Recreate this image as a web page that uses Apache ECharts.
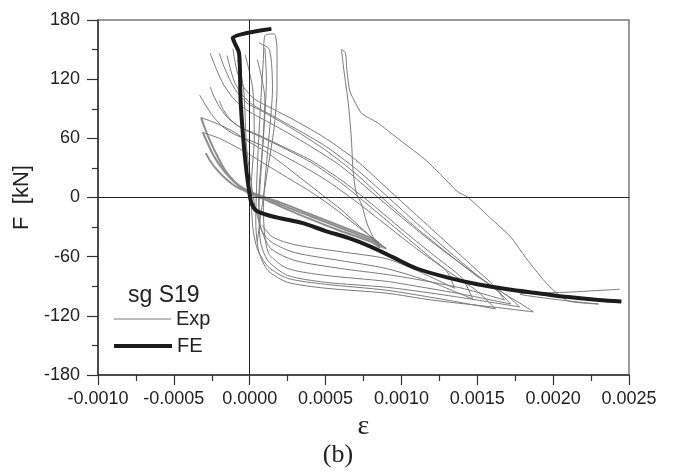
<!DOCTYPE html>
<html>
<head>
<meta charset="utf-8">
<script src="https://cdn.jsdelivr.net/npm/echarts@6/dist/echarts.min.js"></script>
<style>
  html, body { margin: 0; padding: 0; background: #ffffff; }
  #chart { width: 676px; height: 472px; }
</style>
</head>
<body>
<div id="chart"></div>
<script>
// Axis ticks
const xTickLabels = ['-0.0010', '-0.0005', '0.0000', '0.0005', '0.0010', '0.0015', '0.0020', '0.0025'];
const yTickLabels = ['-180', '-120', '-60', '0', '60', '120', '180'];

// FE prediction: strain vs. force [kN]
const feCurve = [
  [0.000143, 171], [-0.000112, 162], [-0.0001, 157], [-0.00007, 146], [-0.00006, 98],
  [-0.00004, 55], [-0.00002, 25], [-0.000005, 8], [0.00001, -5], [0.00004, -13],
  [0.0001, -17], [0.0002, -21], [0.00035, -26], [0.0005, -34], [0.00065, -41],
  [0.0008, -50], [0.00095, -61], [0.0011, -72], [0.0013, -81], [0.0015, -88],
  [0.0017, -93], [0.0019, -97], [0.0021, -101], [0.0023, -104], [0.00245, -105.5]
];

// Measured cycles (strain gauge S19)
const expCycleA = [
  [-0.00026, 146], [-0.00022, 130], [-0.00017, 114], [-0.00011, 101], [-0.00004, 91], [0.00002, 85],
  [0.0002, 70], [0.0004, 52], [0.0006, 32], [0.0008, 6], [0.001, -20], [0.0012, -45],
  [0.0014, -68], [0.0016, -90], [0.0018, -109], [0.00187, -116],
  [0.0016, -111], [0.0012, -104], [0.0009, -97], [0.0005, -92], [0.00025, -86], [0.00012, -74],
  [0.00006, -55], [0.00004, -25], [0.00005, 30], [0.00007, 90], [0.00009, 140], [0.0001, 164],
  [0.00016, 166], [0.00018, 150], [0.00018, 110], [0.00016, 70], [0.00012, 30], [0.00008, -10], [0.00005, -45]
];
const expCycleB = [
  [-0.0002, 146], [-0.00017, 133], [-0.00012, 116], [-0.00007, 104], [-0.00001, 95], [0.0001, 86],
  [0.0003, 68], [0.0005, 48], [0.0007, 24], [0.0009, -4], [0.0011, -31], [0.0013, -56],
  [0.0015, -80], [0.0017, -100], [0.00178, -111],
  [0.0015, -104], [0.0012, -97], [0.0009, -91], [0.0005, -86], [0.00025, -79], [0.00012, -64],
  [0.00007, -44], [0.00006, 0], [0.00009, 60], [0.00011, 120], [0.0001, 152]
];
const expCycleC = [
  [-0.00015, 144], [-0.00013, 132], [-0.0001, 117], [-0.00005, 104], [0.00002, 94], [0.00015, 83],
  [0.0003, 70], [0.0005, 52], [0.0007, 29], [0.0009, 2], [0.0011, -26], [0.0013, -53],
  [0.0015, -79], [0.00165, -97], [0.00172, -108],
  [0.0014, -98], [0.0011, -90], [0.0009, -85], [0.0005, -79], [0.00025, -72], [0.00013, -58],
  [0.0001, -40], [0.00009, -10], [0.00012, 50], [0.00015, 110], [0.00013, 150], [0.00006, 157]
];
const expCycleD = [
  [-0.00011, 151], [-0.0001, 140], [-0.00008, 126], [-0.00004, 112], [0.00003, 100], [0.00015, 90],
  [0.0003, 78], [0.0005, 60], [0.0007, 38], [0.0009, 10], [0.0011, -18], [0.0013, -46],
  [0.0015, -74], [0.0016, -88], [0.00168, -104],
  [0.0014, -92], [0.0011, -83], [0.0009, -78], [0.0006, -72], [0.0003, -64], [0.00014, -52],
  [0.00008, -34], [0.00003, -5], [-0.00002, 50], [-0.00004, 110], [-0.00008, 140]
];
const expMidA = [
  [-0.00033, 104], [-0.0003, 96], [-0.00025, 84], [-0.00018, 72], [-0.0001, 64], [0.0, 58],
  [0.00015, 48], [0.0003, 36], [0.0005, 18], [0.0007, -4], [0.0009, -28], [0.0011, -52],
  [0.0013, -74], [0.0015, -95], [0.00162, -113],
  [0.0013, -104], [0.0009, -94], [0.0005, -88], [0.00025, -82], [0.00012, -70], [0.00005, -52],
  [0.00002, -30], [0.00001, 10], [0.00003, 60], [0.00002, 110], [-0.00003, 145]
];
const expMidB = [
  [-0.00026, 112], [-0.00024, 104], [-0.0002, 92], [-0.00014, 80], [-0.00006, 71], [0.00005, 64],
  [0.0002, 53], [0.0004, 38], [0.0006, 18], [0.0008, -6], [0.001, -32], [0.0012, -57],
  [0.0014, -82], [0.00147, -103],
  [0.0012, -86], [0.0009, -72], [0.0006, -64], [0.0003, -56], [0.00015, -46], [0.00008, -34],
  [0.00006, -15], [0.00008, 40], [0.0001, 100], [0.00005, 140]
];
const expMidC = [
  [-0.0002, 98], [-0.00017, 88], [-0.00012, 78], [-0.00005, 70], [0.00005, 63], [0.0002, 52],
  [0.0004, 36], [0.0006, 15], [0.0008, -10], [0.001, -36], [0.0012, -62], [0.0013, -75],
  [0.00135, -92],
  [0.0011, -74], [0.0009, -62], [0.0006, -55], [0.0003, -48], [0.00015, -40], [0.00008, -28]
];
const expBandA = [
  [-0.00032, 81], [-0.0003, 72], [-0.00026, 57], [-0.00021, 41], [-0.00016, 27], [-0.0001, 16],
  [-0.00004, 8], [0.0, 4], [0.0001, -2], [0.0002, -9], [0.0004, -22], [0.0006, -34],
  [0.0008, -45], [0.00086, -51]
];
const expBandB = [
  [-0.00031, 66], [-0.00028, 56], [-0.00024, 43], [-0.00019, 31], [-0.00013, 20], [-0.00007, 12],
  [0.0, 6], [0.0001, 0], [0.0002, -7], [0.0004, -19], [0.0006, -31], [0.0008, -43], [0.0009, -52]
];
const expBandC = [
  [-0.00029, 45], [-0.00026, 37], [-0.00021, 27], [-0.00015, 18], [-0.00009, 11], [0.0, 5],
  [0.0002, -5], [0.0004, -17], [0.0006, -29], [0.0008, -41], [0.00085, -46]
];
const expBandReturnA = [
  [0.00086, -51], [0.0008, -40], [0.0007, -26], [0.0006, -12], [0.0005, 0], [0.0004, 12], [0.0003, 24],
  [0.0002, 36], [0.0001, 47], [0.0, 56], [-0.0001, 66], [-0.0002, 74], [-0.00032, 81]
];
const expBandReturnB = [
  [0.0009, -52], [0.00082, -42], [0.0007, -28], [0.00055, -10], [0.0004, 6], [0.00025, 20], [0.0001, 34],
  [-0.00005, 48], [-0.0002, 60], [-0.00031, 66]
];
const expLastCycle = [
  [0.00088, -52], [0.00082, -42], [0.00077, -25], [0.00074, -8], [0.0007, 6], [0.00068, 30],
  [0.00067, 60], [0.00065, 95], [0.00062, 130], [0.000605, 150], [0.00063, 147], [0.00064, 130],
  [0.00066, 108], [0.0007, 95], [0.00074, 85], [0.00084, 76], [0.001, 57], [0.00116, 38],
  [0.00128, 20], [0.00137, 6], [0.00144, 0], [0.00158, -20], [0.00172, -40], [0.0018, -57],
  [0.00188, -73], [0.00195, -86], [0.00201, -95], [0.0021, -105], [0.0023, -108],
  [0.00205, -104], [0.00178, -98], [0.0021, -96], [0.00244, -93]
];

const thinCurves = [expCycleA, expCycleB, expCycleC, expCycleD, expMidA, expMidB, expMidC,
  expBandReturnA, expBandReturnB, expLastCycle];
const bandCurves = [expBandA, expBandB, expBandC];

const xMin = -0.001, xMax = 0.0025, xStep = 0.0005;
const yMin = -180, yMax = 180, yStep = 60;

const expColor = '#7a7a7a';
const feColor = '#1c1c1c';

const series = [];
bandCurves.forEach(function (d) {
  series.push({
    name: 'Exp', type: 'line', data: d, symbol: 'none', smooth: 0.25, silent: true,
    itemStyle: { color: expColor },
    lineStyle: { color: '#8e8e8e', width: 2 }
  });
});
thinCurves.forEach(function (d) {
  series.push({
    name: 'Exp', type: 'line', data: d, symbol: 'none', smooth: 0.25, silent: true,
    itemStyle: { color: expColor },
    lineStyle: { color: expColor, width: 1 }
  });
});
series.push({
  name: 'FE', type: 'line', data: feCurve, symbol: 'none', smooth: 0.3, silent: true,
  itemStyle: { color: feColor },
  lineStyle: { color: feColor, width: 4 },
  markLine: {
    silent: true, symbol: 'none', label: { show: false },
    lineStyle: { color: '#222', width: 1, type: 'solid' },
    data: [{ yAxis: 0 }, { xAxis: 0 }]
  }
});

const legendText = { fontSize: 20, color: '#222', fontFamily: '"Liberation Sans", Arial, sans-serif' };

const chart = echarts.init(document.getElementById('chart'), null, { renderer: 'canvas' });
chart.setOption({
  animation: false,
  backgroundColor: '#ffffff',
  textStyle: { fontFamily: '"Liberation Sans", Arial, sans-serif' },
  title: [
    { text: 'sg S19', left: 123, top: 279, textStyle: { fontSize: 23, fontWeight: 'normal', color: '#222', fontFamily: '"Liberation Sans", Arial, sans-serif' } },
    { text: '(b)', left: 'center', top: 437, textStyle: { fontSize: 26, fontWeight: 'normal', color: '#222', fontFamily: '"Liberation Serif", "Times New Roman", serif' } }
  ],
  legend: [
    {
      left: 114, top: 309, itemWidth: 57, itemHeight: 1.2, itemGap: 0, padding: 0,
      data: [{ name: 'Exp', icon: 'rect' }], selectedMode: false,
      itemStyle: { color: expColor }, textStyle: legendText
    },
    {
      left: 114, top: 336, itemWidth: 58, itemHeight: 4, itemGap: 0, padding: 0,
      data: [{ name: 'FE', icon: 'rect' }], selectedMode: false,
      itemStyle: { color: feColor }, textStyle: legendText
    }
  ],
  grid: { left: 98, right: 47, top: 20, bottom: 97, show: true, borderColor: '#7a7a7a', borderWidth: 1.5, backgroundColor: 'transparent' },
  xAxis: {
    type: 'value', min: xMin, max: xMax, interval: xStep,
    name: 'ε', nameLocation: 'middle', nameGap: 20,
    nameTextStyle: { fontSize: 28, color: '#222', fontFamily: '"Liberation Serif", "Times New Roman", serif' },
    axisLine: { onZero: false, lineStyle: { color: '#333', width: 1.5 } },
    axisTick: { show: true, length: 10, lineStyle: { color: '#333', width: 1.2 } },
    minorTick: { show: true, splitNumber: 2, length: 6, lineStyle: { color: '#333', width: 1.2 } },
    splitLine: { show: false },
    axisLabel: {
      fontSize: 18, color: '#222', margin: 15,
      formatter: function (v) { return xTickLabels[Math.round((v - xMin) / xStep)]; }
    }
  },
  yAxis: {
    type: 'value', min: yMin, max: yMax, interval: yStep,
    name: 'F  [kN]', nameLocation: 'middle', nameGap: 53, nameRotate: 90,
    nameTextStyle: { fontSize: 22, color: '#222' },
    axisLine: { onZero: false, lineStyle: { color: '#333', width: 1.5 } },
    axisTick: { show: true, length: 11, lineStyle: { color: '#333', width: 1.2 } },
    minorTick: { show: true, splitNumber: 2, length: 6, lineStyle: { color: '#333', width: 1.2 } },
    splitLine: { show: false },
    axisLabel: {
      fontSize: 18, color: '#222', margin: 18,
      formatter: function (v) { return yTickLabels[Math.round((v - yMin) / yStep)]; }
    }
  },
  series: series
});
</script>
</body>
</html>
